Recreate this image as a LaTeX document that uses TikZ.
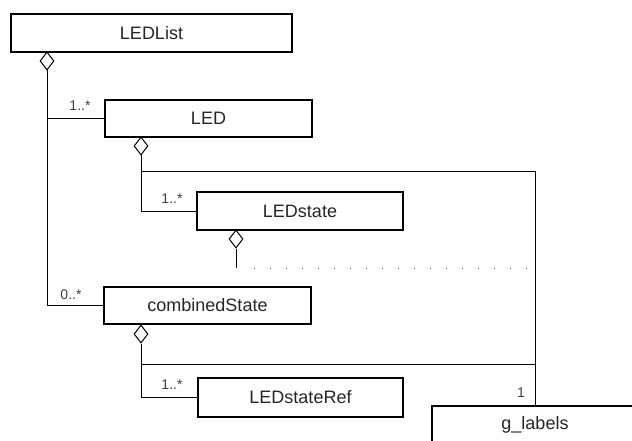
\documentclass[tikz,border=0pt]{standalone}
\usepackage{fontspec}
\setmainfont{Liberation Sans}
\usetikzlibrary{shapes.geometric}
\begin{document}
\begin{tikzpicture}[x=1pt,y=-1pt,
  cls/.style={draw=black,line width=1.6pt,fill=white,inner sep=0pt,
    minimum width=207pt,minimum height=37pt,
    font=\fontsize{18}{20}\selectfont,text=black!85},
  agg/.style={diamond,draw=black,line width=1pt,fill=white,inner sep=0pt,
    minimum width=14pt,minimum height=18pt,aspect=0.78},
  conn/.style={draw=black,line width=1pt},
  mult/.style={font=\fontsize{14}{16}\selectfont,text=black!75,inner sep=1pt}]
\clip (0,0) rectangle (632,441);
\fill[white] (0,0) rectangle (632,441);
% classes
\node[cls,minimum width=281pt,minimum height=38pt] (ledlist) at (151.5,33) {LEDList};
\node[cls] (led) at (208.5,118.5) {LED};
\node[cls,minimum width=206pt,minimum height=38pt] (ledstate) at (300,211) {LEDstate};
\node[cls] (cs) at (207.5,305.5) {combinedState};
\node[cls,minimum width=205pt,minimum height=39pt] (lsr) at (300.5,397.5) {LEDstateRef};
\node[cls,minimum width=206pt] (gl) at (535,424.5) {g\_labels};
% aggregation diamonds
\node[agg] (d1) at (47,61) {};
\node[agg] (d2) at (141,146) {};
\node[agg] (d3) at (236,239) {};
\node[agg] (d4) at (141,334) {};
% junction coordinates
\coordinate (j1) at (141,172);
\coordinate (j2) at (141,364);
\coordinate (e3) at (236,268);
\coordinate (dotA) at (254,268);
\coordinate (dotB) at (535,268);
% connectors
\draw[conn] (d1.south) |- (cs.west);
\draw[conn] (d1.south |- led.west) -- (led.west);
\draw[conn] (d2.south) |- (ledstate.west);
\draw[conn] (j1) -| (gl.north);
\draw[conn] (d3.south) -- (e3);
\draw[black!70,line width=1pt,dash pattern=on 1pt off 15pt] (dotA) -- (dotB);
\draw[conn] (d4.south) |- (lsr.west);
\draw[conn] (j2) -- (j2 -| gl.north);
% multiplicities
\node[mult] (m1) at (80,106) {1..*};
\node[mult] (m2) at (172,199) {1..*};
\node[mult] (m3) at (71,295) {0..*};
\node[mult] (m4) at (172,385) {1..*};
\node[mult] (m5) at (521,393) {1};
\end{tikzpicture}
\end{document}
